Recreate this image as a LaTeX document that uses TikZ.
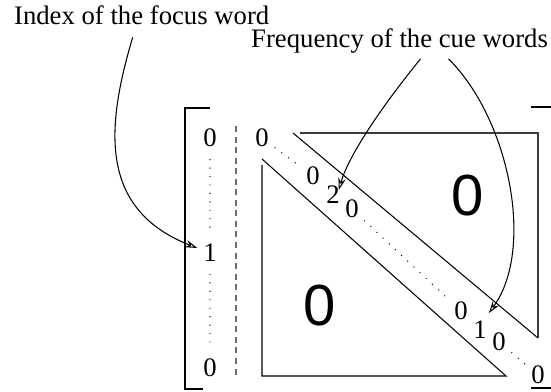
\documentclass[tikz,border=0pt]{standalone}
\usepackage{fontspec}
\setmainfont{Liberation Serif}
\newfontfamily\zerofont{Liberation Sans}
\usepackage{tikz}
\usetikzlibrary{arrows.meta, calc}
\definecolor{mydark}{RGB}{0,0,0}
\definecolor{mygray}{RGB}{110,110,110}
\definecolor{myframe}{RGB}{60,60,60}
\tikzset{
  textlabel/.style={inner sep=1pt},
  digit/.style={inner sep=1pt},
  bigzero/.style={inner sep=0pt, font=\zerofont\fontsize{33}{36}\selectfont},
  arrow/.style={-{Stealth[open, length=2.4mm, width=1.5mm]}, line width=0.6pt, color=mydark},
  line/.style={line width=0.6pt, color=mydark},
  frameline/.style={line width=0.7pt, color=myframe},
  dotline/.style={line width=0.8pt, line cap=round, dash pattern=on 0pt off 4.8pt,
    shorten <=3pt, shorten >=3pt},
  dashline/.style={line width=0.8pt, color=mygray, dash pattern=on 3.4pt off 2.6pt}
}

\begin{document}
\begin{tikzpicture}[x=0.2mm, y=-0.2mm, font=\fontsize{15.2}{18}\selectfont]
  \useasboundingbox (0,0) rectangle (551,391);
  % labels
  \node[textlabel, anchor=base west] (idxlabel) at (12,24) {Index of the focus word};
  \node[textlabel, anchor=base east] (frqlabel) at (550,47) {Frequency of the cue words};
  % brackets
  \draw[line] (210,108) -- (185,108) -- (185,389) -- (203,389);
  \draw[line] (531,107) -- (552,107) -- (552,388) -- (531,388);
  % index column
  \node[digit] (l0) at (210,138) {0};
  \node[digit] (l1) at (210,253) {1};
  \node[digit] (l2) at (210,368) {0};
  \draw[dotline, shorten <=6pt, shorten >=6pt] (l0) -- (l1);
  \draw[dotline, shorten <=6pt, shorten >=6pt] (l1) -- (l2);
  \coordinate (dtop) at (236,126);
  \coordinate (dbot) at (236,375);
  \draw[dashline] (dtop) -- (dbot);
  % triangles
  \draw[line] (262,165) -- (262,376) -- (506,376) -- (262,159);
  \draw[frameline] (300,133) -- (538,133) -- (538,338);
  \draw[line] (538,338) -- (293,133);
  \node[bigzero] (zlow) at (320,306) {0};
  \node[bigzero] (zup) at (468,196) {0};
  % diagonal
  \node[digit] (d0) at (262,138) {0};
  \node[digit] (d1) at (313,176) {0};
  \node[digit] (two) at (333,195) {2};
  \node[digit] (d3) at (352,209) {0};
  \node[digit] (d4) at (461,311) {0};
  \node[digit] (one) at (480,330) {1};
  \node[digit] (d6) at (499,342) {0};
  \node[digit] (d7) at (538,375) {0};
  \draw[dotline] (d0) -- (d1);
  \draw[dotline] (d3) -- (d4);
  \draw[dotline] (d6) -- (d7);
  % arrows
  \draw[arrow] ($(idxlabel.south)+(-9,11)$) .. controls (105,130) and (100,210) .. ($(l1.west)+(-4,-5)$);
  \draw[arrow] ($(frqlabel.south)+(21,4)$) .. controls (395,90) and (350,150) .. ($(two.north east)+(-3,6)$);
  \draw[arrow] ($(frqlabel.south)+(49,4)$) .. controls (510,120) and (535,250) .. ($(one.north east)+(0,-6)$);
\end{tikzpicture}
\end{document}
